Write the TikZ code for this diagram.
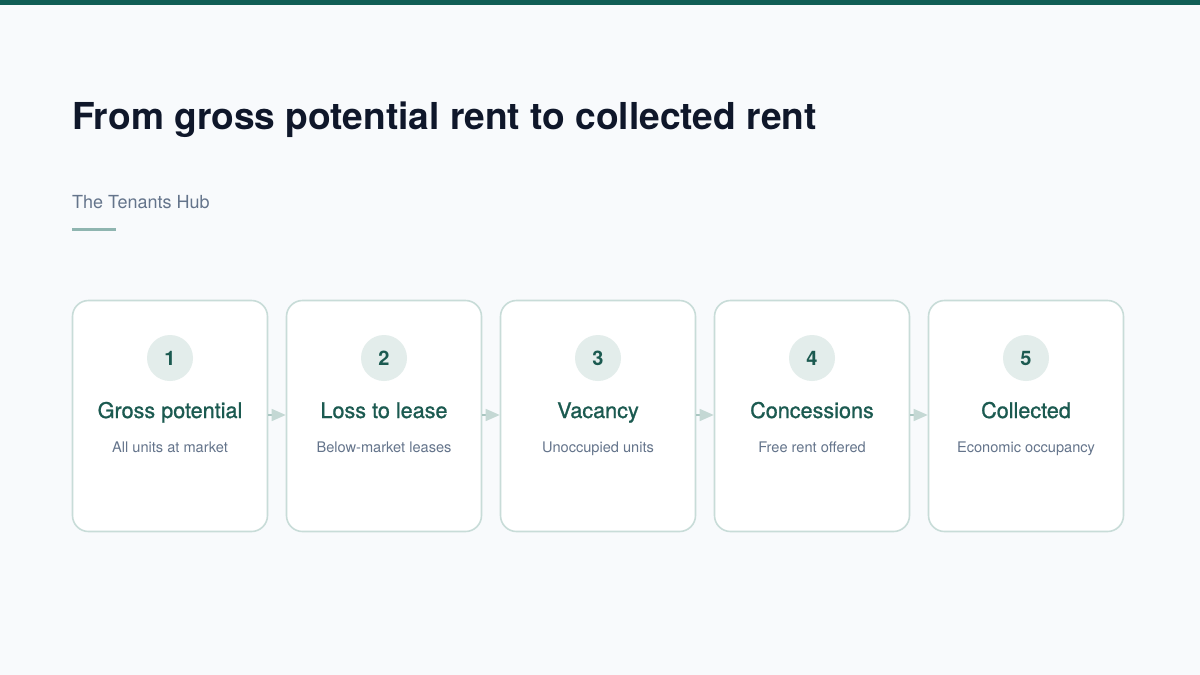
\documentclass[tikz,border=0pt]{standalone}
\usepackage{fontspec}
\setmainfont{TeX Gyre Heros}
\newfontfamily\medfont[FakeBold=1.0]{TeX Gyre Heros}
\usetikzlibrary{arrows.meta}
\definecolor{bg}{HTML}{F8FAFC}
\definecolor{topbar}{HTML}{115E56}
\definecolor{titlec}{HTML}{0F172A}
\definecolor{subc}{HTML}{64748B}
\definecolor{rulec}{HTML}{8FB5B0}
\definecolor{boxline}{HTML}{C8DCD8}
\definecolor{circfill}{HTML}{E3EDEB}
\definecolor{numc}{HTML}{1B5A50}
\definecolor{headc}{HTML}{1B5A50}
\definecolor{arrowc}{HTML}{A9C6C1}
\definecolor{tipc}{HTML}{C4D8D4}
\tikzset{
  card/.style={draw=boxline, line width=1.6pt, fill=white, rounded corners=16pt,
    minimum width=195pt, minimum height=231pt, inner sep=0pt},
  badge/.style={circle, fill=circfill, minimum size=46pt, inner sep=0pt,
    font=\fontsize{20}{24}\selectfont\bfseries, text=numc},
  head/.style={font=\medfont\fontsize{21.6}{24}\selectfont, text=headc},
  desc/.style={font=\fontsize{14.6}{17}\selectfont, text=subc},
  flow/.style={draw=arrowc, line width=1.5pt, -{Triangle[length=14pt,width=12pt,color=tipc]}}
}
\begin{document}
\begin{tikzpicture}[x=1pt,y=-1pt]
\useasboundingbox (0,0) rectangle (1200,675);
\fill[bg] (0,0) rectangle (1200,675);
\fill[topbar] (0,0) rectangle (1200,5);
\node[anchor=base west, inner sep=0pt, text=titlec, font=\fontsize{37.1}{42}\selectfont\bfseries] (title) at (72,129) {From gross potential rent to collected rent};
\node[anchor=base west, inner sep=0pt, text=subc, font=\fontsize{18}{22}\selectfont] (sub) at (72,208) {The Tenants Hub};
\fill[rulec] (72,228) rectangle (116,231);
\foreach \i/\h/\d in {1/Gross potential/All units at market, 2/Loss to lease/Below-market leases, 3/Vacancy/Unoccupied units, 4/Concessions/Free rent offered, 5/Collected/Economic occupancy}{
  \pgfmathsetmacro{\cx}{170+(\i-1)*214}
  \node[card] (c\i) at (\cx,416) {};
  \node[badge] (b\i) at (\cx,358) {\i};
  \node[head, anchor=base] (h\i) at (\cx,418) {\h};
  \node[desc, anchor=base] (d\i) at (\cx,452) {\d};
}
\foreach \i/\j in {1/2,2/3,3/4,4/5}{
  \draw[flow] (c\i.east) ++(0,-1) coordinate (s\i) -- (c\j.west |- s\i);
}
\end{tikzpicture}
\end{document}
